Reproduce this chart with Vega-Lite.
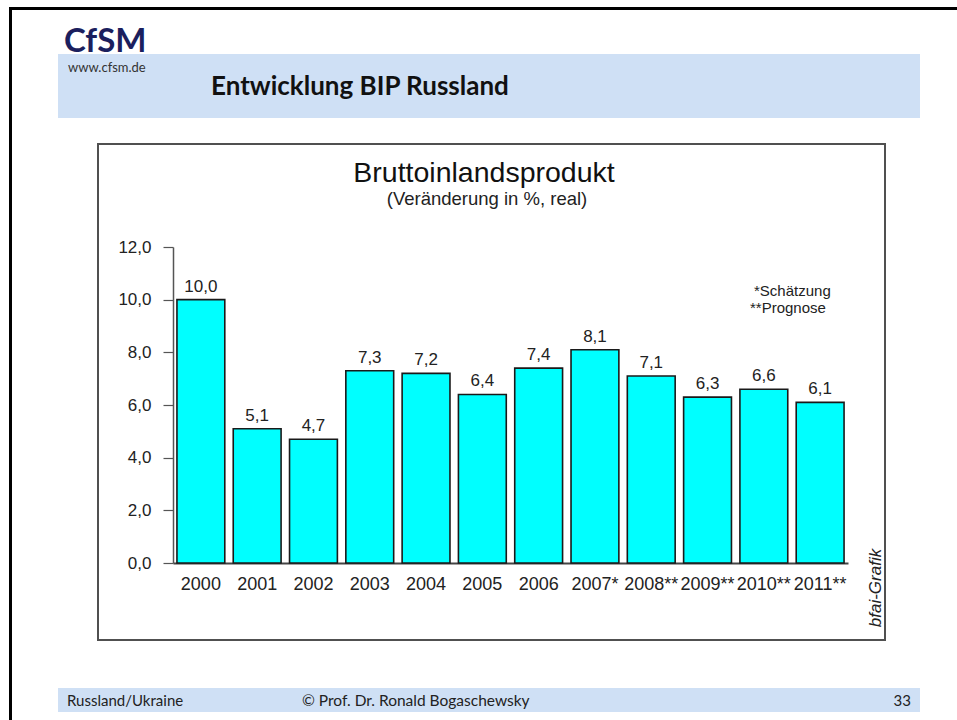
{
  "$schema": "https://vega.github.io/schema/vega-lite/v6.json",
  "width": 675,
  "height": 316,
  "autosize": {"type": "none"},
  "padding": {"left": 173, "top": 247, "right": 109, "bottom": 157},
  "background": "white",
  "config": {
    "view": {"stroke": null},
    "locale": {"number": {"decimal": ",", "thousands": ".", "grouping": [3], "currency": ["", " €"]}}
  },
  "data": {
    "values": [
      {"jahr": "2000", "wert": 10.0},
      {"jahr": "2001", "wert": 5.1},
      {"jahr": "2002", "wert": 4.7},
      {"jahr": "2003", "wert": 7.3},
      {"jahr": "2004", "wert": 7.2},
      {"jahr": "2005", "wert": 6.4},
      {"jahr": "2006", "wert": 7.4},
      {"jahr": "2007*", "wert": 8.1},
      {"jahr": "2008**", "wert": 7.1},
      {"jahr": "2009**", "wert": 6.3},
      {"jahr": "2010**", "wert": 6.6},
      {"jahr": "2011**", "wert": 6.1}
    ]
  },
  "layer": [
    {
      "data": {"values": [{}]},
      "mark": {"type": "rect", "fill": "#cfe0f5"},
      "encoding": {"x": {"value": -115}, "x2": {"value": 747}, "y": {"value": -193}, "y2": {"value": -129}}
    },
    {
      "data": {"values": [{}]},
      "mark": {"type": "rect", "fill": "#cfe0f5"},
      "encoding": {"x": {"value": -115}, "x2": {"value": 747}, "y": {"value": 441}, "y2": {"value": 465}}
    },
    {
      "data": {"values": [{}]},
      "mark": {"type": "rect", "fill": "transparent", "stroke": "#000000", "strokeWidth": 3},
      "encoding": {"x": {"value": -162.5}, "x2": {"value": 790}, "y": {"value": -238.5}, "y2": {"value": 480}}
    },
    {
      "data": {"values": [{}]},
      "mark": {"type": "rect", "fill": "transparent", "stroke": "#505050", "strokeWidth": 2},
      "encoding": {"x": {"value": -75}, "x2": {"value": 712}, "y": {"value": -103}, "y2": {"value": 393}}
    },
    {
      "mark": {"type": "bar", "fill": "#00ffff", "stroke": "#1a1a1a", "strokeWidth": 1.6},
      "encoding": {
        "x": {
          "field": "jahr", "type": "nominal", "sort": null,
          "scale": {"paddingInner": 0.15, "paddingOuter": 0.07},
          "axis": {"title": null, "labelAngle": 0, "ticks": false, "tickSize": 0, "domainColor": "#444444", "domainWidth": 2, "labelFont": "Liberation Sans", "labelFontSize": 18, "labelColor": "#222222", "labelPadding": 12}
        },
        "y": {
          "field": "wert", "type": "quantitative",
          "scale": {"domain": [0, 12]},
          "axis": {"title": null, "values": [0, 2, 4, 6, 8, 10, 12], "format": ".1f", "grid": false, "domainColor": "#555555", "domainWidth": 1.5, "tickColor": "#555555", "tickSize": 10, "tickWidth": 1.2, "labelFont": "Liberation Sans", "labelFontSize": 17, "labelColor": "#222222", "labelPadding": 12}
        }
      }
    },
    {
      "mark": {"type": "text", "baseline": "alphabetic", "dy": -8, "font": "Liberation Sans", "fontSize": 17, "color": "#222222"},
      "encoding": {
        "x": {"field": "jahr", "type": "nominal", "sort": null},
        "y": {"field": "wert", "type": "quantitative"},
        "text": {"field": "wert", "type": "quantitative", "format": ".1f"}
      }
    },
    {
      "data": {"values": [{}]},
      "mark": {"type": "text", "text": "CfSM", "font": "Lato", "fontWeight": "bold", "fontSize": 33, "color": "#1b1f5e", "align": "left", "baseline": "alphabetic"},
      "encoding": {"x": {"value": -109}, "y": {"value": -195}}
    },
    {
      "data": {"values": [{}]},
      "mark": {"type": "text", "text": "www.cfsm.de", "font": "Lato", "fontSize": 13, "color": "#333333", "align": "left", "baseline": "alphabetic"},
      "encoding": {"x": {"value": -105}, "y": {"value": -175}}
    },
    {
      "data": {"values": [{}]},
      "mark": {"type": "text", "text": "Entwicklung BIP Russland", "font": "Lato", "fontWeight": "bold", "fontSize": 26, "color": "#111111", "align": "left", "baseline": "alphabetic"},
      "encoding": {"x": {"value": 38}, "y": {"value": -152}}
    },
    {
      "data": {"values": [{}]},
      "mark": {"type": "text", "text": "Bruttoinlandsprodukt", "font": "Liberation Sans", "fontSize": 28.5, "color": "#111111", "align": "center", "baseline": "alphabetic"},
      "encoding": {"x": {"value": 311}, "y": {"value": -65}}
    },
    {
      "data": {"values": [{}]},
      "mark": {"type": "text", "text": "(Veränderung in %, real)", "font": "Liberation Sans", "fontSize": 18.5, "color": "#222222", "align": "center", "baseline": "alphabetic"},
      "encoding": {"x": {"value": 314}, "y": {"value": -42}}
    },
    {
      "data": {"values": [{}]},
      "mark": {"type": "text", "text": "*Schätzung", "font": "Liberation Sans", "fontSize": 15, "color": "#222222", "align": "left", "baseline": "alphabetic"},
      "encoding": {"x": {"value": 581}, "y": {"value": 49}}
    },
    {
      "data": {"values": [{}]},
      "mark": {"type": "text", "text": "**Prognose", "font": "Liberation Sans", "fontSize": 15, "color": "#222222", "align": "left", "baseline": "alphabetic"},
      "encoding": {"x": {"value": 577}, "y": {"value": 66}}
    },
    {
      "data": {"values": [{}]},
      "mark": {"type": "text", "text": "bfai-Grafik", "font": "Liberation Sans", "fontStyle": "italic", "fontSize": 17, "color": "#222222", "align": "center", "baseline": "middle", "angle": 270},
      "encoding": {"x": {"value": 703}, "y": {"value": 341}}
    },
    {
      "data": {"values": [{}]},
      "mark": {"type": "text", "text": "Russland/Ukraine", "font": "Lato", "fontSize": 15, "color": "#222222", "align": "left", "baseline": "alphabetic"},
      "encoding": {"x": {"value": -106}, "y": {"value": 459}}
    },
    {
      "data": {"values": [{}]},
      "mark": {"type": "text", "text": "© Prof. Dr. Ronald Bogaschewsky", "font": "Lato", "fontSize": 15.5, "color": "#222222", "align": "left", "baseline": "alphabetic"},
      "encoding": {"x": {"value": 129}, "y": {"value": 459}}
    },
    {
      "data": {"values": [{}]},
      "mark": {"type": "text", "text": "33", "font": "Lato", "fontSize": 15, "color": "#222222", "align": "right", "baseline": "alphabetic"},
      "encoding": {"x": {"value": 738}, "y": {"value": 459}}
    }
  ]
}
